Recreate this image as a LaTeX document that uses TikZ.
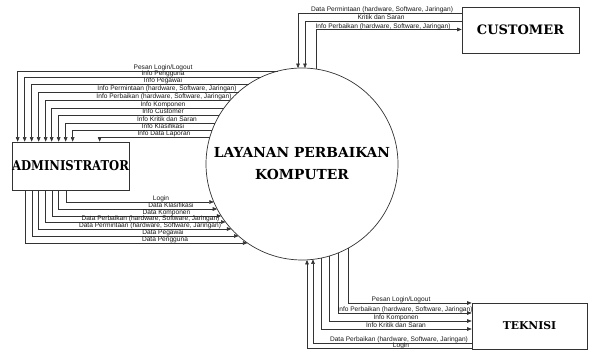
\documentclass[tikz,border=0pt]{standalone}
\usepackage{graphicx}
\usepackage{fontspec}
\setmainfont{Liberation Sans}
\newfontfamily\entityfont{DejaVu Serif}
\usetikzlibrary{arrows.meta,calc}

% points on the rim of the process circle (centre 302,164, radius 96)
\newcommand\rimleft[2]{\coordinate (#1) at ($(proc.center)+({180-asin((164-#2)/96)}:96pt)$);}
\newcommand\rimtop[2]{\coordinate (#1) at ($(proc.center)+({acos((#2-302)/96)}:96pt)$);}
\newcommand\rimbottom[2]{\coordinate (#1) at ($(proc.center)+({-acos((#2-302)/96)}:96pt)$);}

\begin{document}
\begin{tikzpicture}[x=1pt,y=-1pt,
  wire/.style={draw=black!80,line width=0.6pt},
  flow/.style={wire,-{Triangle[length=4.5pt,width=3.6pt]}},
  tag/.style={font=\fontsize{6.6}{7}\selectfont,inner sep=0pt,anchor=base,text=black!90},
  entity/.style={draw=black!80,line width=0.7pt,inner sep=0pt,font=\entityfont\bfseries},
]
\useasboundingbox (0,0) rectangle (590,350);
\fill[white] (0,0) rectangle (590,350);

% process and external entities
\node[draw=black!80,line width=0.7pt,circle,minimum size=192pt,inner sep=0pt,align=center,
      font=\entityfont\bfseries\fontsize{13.8}{22}\selectfont] (proc) at (302,164)
      {LAYANAN PERBAIKAN\\KOMPUTER};
\node[entity,minimum width=117pt,minimum height=48pt] (admin) at (70.5,166)
      {\fontsize{13.5}{16}\selectfont\scalebox{0.86}[1]{ADMINISTRATOR}};
\node[entity,minimum width=117pt,minimum height=46pt] (customer) at (520.5,30)
      {\fontsize{13}{16}\selectfont CUSTOMER};
\node[entity,minimum width=115pt,minimum height=46pt] (teknisi) at (529.5,326)
      {\fontsize{10.8}{13}\selectfont TEKNISI};

% flows from the process down into ADMINISTRATOR
\rimleft{ia1}{71}   \draw[flow] (ia1)  -| ([xshift=6pt]admin.north west);
\rimleft{ia2}{77}   \draw[flow] (ia2)  -| ([xshift=13pt]admin.north west);
\rimleft{ia3}{84}   \draw[flow] (ia3)  -| ([xshift=20pt]admin.north west);
\rimleft{ia4}{92}   \draw[flow] (ia4)  -| ([xshift=27pt]admin.north west);
\rimleft{ia5}{100}  \draw[flow] (ia5)  -| ([xshift=34pt]admin.north west);
\rimleft{ia6}{108}  \draw[flow] (ia6)  -| ([xshift=40pt]admin.north west);
\rimleft{ia7}{115}  \draw[flow] (ia7)  -| ([xshift=47pt]admin.north west);
\rimleft{ia8}{123}  \draw[flow] (ia8)  -| ([xshift=54pt]admin.north west);
\rimleft{ia9}{130}  \draw[flow] (ia9)  -| ([xshift=61pt]admin.north west);
\rimleft{ia10}{137} \draw[flow] (ia10) -| ([xshift=88pt]admin.north west);

\node[tag] at (163,69.7)  {Pesan Login/Logout};
\node[tag] at (163,75.7)  {Info Pengguna};
\node[tag] at (163,82.7)  {Info Pegawai};
\node[tag] at (167,90.7)  {Info Permintaan (hardware, Software, Jaringan)};
\node[tag] at (164,98.7)  {Info Perbaikan (hardware, Software, Jaringan)};
\node[tag] at (163,106.7) {Info Komponen};
\node[tag] at (163,113.7) {Info Customer};
\node[tag] at (167,121.7) {Info Kritik dan Saran};
\node[tag] at (163,128.7) {Info Klasifikasi};
\node[tag] at (164,135.7) {Info Data Laporan};

% flows from ADMINISTRATOR into the process
\rimleft{oa1}{202} \draw[flow] ([xshift=55pt]admin.south west) |- (oa1);
\rimleft{oa2}{209} \draw[flow] ([xshift=47pt]admin.south west) |- (oa2);
\rimleft{oa3}{216} \draw[flow] ([xshift=41pt]admin.south west) |- (oa3);
\rimleft{oa4}{222} \draw[flow] ([xshift=34pt]admin.south west) |- (oa4);
\rimleft{oa5}{229} \draw[flow] ([xshift=27pt]admin.south west) |- (oa5);
\rimleft{oa6}{236} \draw[flow] ([xshift=21pt]admin.south west) |- (oa6);
\rimleft{oa7}{243} \draw[flow] ([xshift=14pt]admin.south west) |- (oa7);

\node[tag] at (161,200.7)   {Login};
\node[tag] at (171,207.7)   {Data Klasifikasi};
\node[tag] at (166.5,214.7) {Data Komponen};
\node[tag] at (150.5,220.7) {Data Perbaikan (hardware, Software, Jaringan)};
\node[tag] at (150,227.7)   {Data Permintaan (hardware, Software, Jaringan)};
\node[tag] at (163,234.7)   {Data Pegawai};
\node[tag] at (165,241.7)   {Data Pengguna};

% CUSTOMER flows
\rimtop{ic1}{298} \draw[flow] ([yshift=17pt]customer.west) -| (ic1);
\rimtop{ic2}{305} \draw[flow] ([yshift=9pt]customer.west) -| (ic2);
\rimtop{oc1}{316} \draw[flow] (oc1) |- ([yshift=0.5pt]customer.west);

\node[tag] at (382,11.7) {Data Permintaan (hardware, Software, Jaringan)};
\node[tag] at (381,19.7) {Kritik dan Saran};
\node[tag] at (383,28.2) {Info Perbaikan (hardware, Software, Jaringan)};

% TEKNISI flows
\rimbottom{it1}{348} \draw[flow] (it1) |- ([yshift=23pt]teknisi.west);
\rimbottom{it2}{338} \draw[flow] (it2) |- ([yshift=13pt]teknisi.west);
\rimbottom{it3}{329} \draw[flow] (it3) |- ([yshift=5pt]teknisi.west);
\rimbottom{it4}{321} \draw[flow] (it4) |- ([yshift=-3pt]teknisi.west);
\rimbottom{ot1}{313} \draw[flow] ([yshift=-17pt]teknisi.west) -| (ot1);
\rimbottom{ot2}{307} \draw[flow] ([yshift=-22pt]teknisi.west) -| (ot2);

\node[tag] at (401,301.7) {Pesan Login/Logout};
\node[tag] at (405,311.7) {Info Perbaikan (hardware, Software, Jaringan)};
\node[tag] at (396,319.7) {Info Komponen};
\node[tag] at (396,327.7) {Info Kritik dan Saran};
\node[tag] at (399,341.7) {Data Perbaikan (hardware, Software, Jaringan)};
\node[tag] at (401,347.2) {Login};
\end{tikzpicture}
\end{document}
